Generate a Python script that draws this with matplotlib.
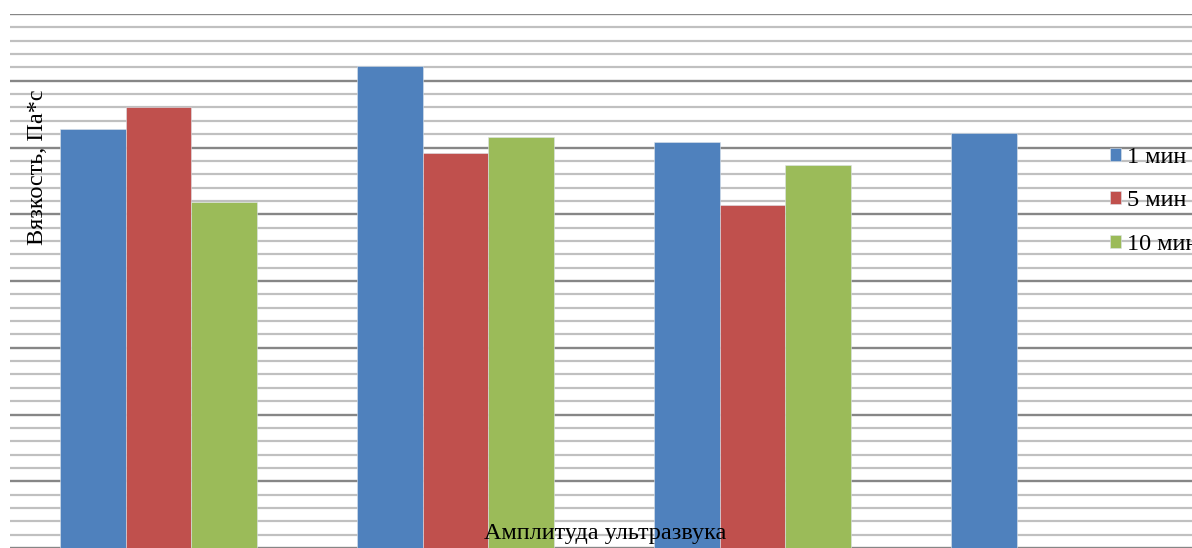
import numpy as np
import matplotlib
matplotlib.use('Agg')
import matplotlib.pyplot as plt

plt.rcParams['font.family'] = ['Liberation Serif', 'DejaVu Serif']

#-------------------------------------------------------------------------------
# DATA

amplitudes = ['A1', 'A2', 'A3', 'A4']
labels = ['1 мин', '5 мин', '10 мин']
v1 = [6.28, 7.22, 6.08, 6.22]
v5 = [6.61, 5.92, 5.14, np.nan]
v10 = [5.18, 6.16, 5.74, np.nan]

colors = ['#4F81BD', '#C0504D', '#9BBB59']

#-------------------------------------------------------------------------------
# PLOT

W, H = 1192, 548
fs = 17.5
fig = plt.figure(figsize=(W/100, H/100), dpi=100)
#plot area runs a little past the right edge of the figure
ax = fig.add_axes([10/W, 0, (1198 - 10)/W, 1 - 14/H])

x = np.arange(len(amplitudes))
w = 0.222
for i, (vals, c, lab) in enumerate(zip([v1, v5, v10], colors, labels)):
    ax.bar(x + (i - 1)*w, vals, w, color=c, label=lab, zorder=3,
           edgecolor='#dde3ea', linewidth=0.4)

ax.set_xlim(-0.5, len(amplitudes) - 0.5)
ax.set_ylim(0, 8)
ax.set_yticks(np.arange(0, 8.01, 1))
ax.set_yticks(np.arange(0, 8.01, 0.2), minor=True)
ax.grid(True, which='major', axis='y', color='#868686', linewidth=1.7, zorder=1)
ax.grid(True, which='minor', axis='y', color='#c0c0c0', linewidth=1.6, zorder=1)
ax.tick_params(which='both', length=0, labelleft=False, labelbottom=False)
for s in ax.spines.values():
    s.set_visible(False)

fig.text(605/W, 1 - 533/H, 'Амплитуда ультразвука', ha='center', va='center',
         fontsize=fs)
fig.text(38/W, 1 - 167/H, 'Вязкость, Па*с', ha='center', va='center',
         rotation=90, fontsize=fs)

fig.legend(loc='upper left', bbox_to_anchor=(1100/W, 1 - 137/H),
           frameon=False, fontsize=fs, handlelength=0.45, handleheight=0.45,
           handletextpad=0.25, labelspacing=0.93, borderaxespad=0)

fig.savefig('out.png', dpi=100)
